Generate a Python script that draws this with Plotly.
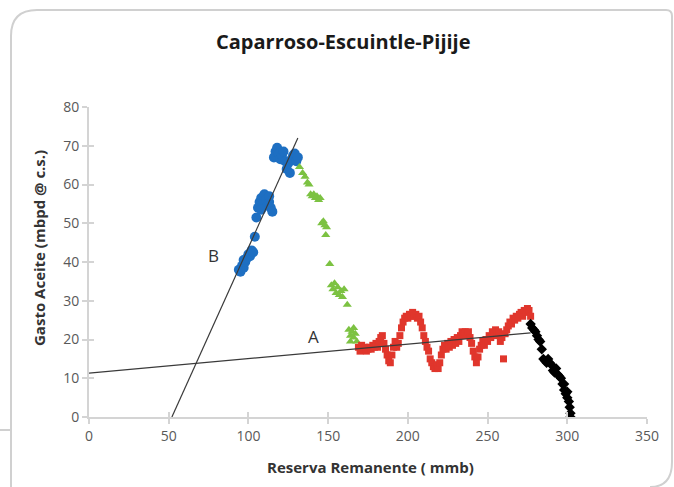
import plotly.graph_objects as go

# --- data -----------------------------------------------------------------
# Trend B (early period, steep) : blue circles
blue_x = [94, 95, 96, 97, 98, 99, 100, 101, 102, 103, 97,
          104, 105,
          106, 107, 108, 109, 110, 111, 112, 113, 114, 115, 108, 113,
          116, 117, 118, 119, 120, 121, 122, 123, 124, 125, 126, 127, 128, 129, 130, 131]
blue_y = [38, 37.5, 39, 38.5, 40, 41, 42, 41.5, 43, 42.5, 40.5,
          46.5, 51.5,
          54, 55.5, 56.5, 55, 57.5, 56, 54.5, 55.5, 54, 53, 53.5, 57,
          67, 68.5, 69.5, 68, 66.5, 67.5, 68.5, 66, 64, 65.5, 63, 66.5, 67.5, 68, 66, 67]

# Decline after the peak : green triangles
green_x = [132, 134, 135.5, 137, 138, 139, 140, 141, 142, 143, 144, 145,
           146, 147, 148, 148.5, 149, 151,
           152, 153, 154, 155, 156, 157, 158, 159, 160, 162,
           163, 164, 165, 166, 167, 168, 164, 166]
green_y = [64.5, 63, 62, 60.5, 60, 57.5, 57, 57.5, 56.5, 57, 56, 56.5,
           50, 50.5, 49.5, 47, 49, 39.5,
           34, 33, 34.5, 32, 33.5, 31.5, 32.5, 31, 33, 29,
           22.5, 21, 22, 20.5, 21.5, 19.5, 19.5, 23]

# Trend A (plateau) : red squares
red_x = list(range(169, 278))
red_y = [18, 17, 18.5, 17.5, 18, 17, 17.5, 18, 17.5, 18.5, 18, 19, 18, 19.5, 20.5, 21,
         19, 17.5, 16, 14.5, 14, 16, 18, 19.5, 18, 19, 21, 23, 24.5, 25.5, 26, 25.5,
         26.5, 26, 27, 26, 26.5, 25.5, 26, 24.5, 23, 21, 19.5, 18, 17, 15, 14, 13,
         12.5, 13.5, 12.5, 14, 16, 17.5, 18.5, 17.5, 19, 18, 19.5, 18.5, 20, 19, 20.5,
         19.5, 21, 22, 21.5, 22, 21, 22, 20.5, 19, 17, 15.5, 14, 15.5, 17.5, 18.5,
         19.5, 18.5, 20, 19.5, 21, 20.5, 22, 21.5, 22.5, 21, 22, 19.5, 20.5, 15,
         21.5, 22.5, 23.5, 24.5, 24, 25.5, 25, 26, 25.5, 26.5, 27, 26, 27.5, 27, 28,
         27.5, 26]

# Final decline : black diamonds
black_x = [277, 278, 279, 280, 281, 282, 283, 284, 285, 286, 287, 288, 289, 290,
           291, 292, 293, 294, 295, 296, 297, 298, 299, 300, 301, 301.5, 302, 302,
           298, 300]
black_y = [24, 23, 22.5, 22, 21, 20, 19.5, 17.5, 15, 14.5, 14, 15, 14, 13.5,
           12, 11.5, 12.5, 11, 10.5, 10, 8.5, 7, 6, 5, 4, 2.5, 1, 0,
           8.5, 6.5]

# Trend lines
line_a_x = [0, 277]
line_a_y = [11.3, 21.7]
line_b_x = [52, 131]
line_b_y = [0, 72]

x_ticks = [0, 50, 100, 150, 200, 250, 300, 350]
y_ticks = [0, 10, 20, 30, 40, 50, 60, 70, 80]

TITLE = "Caparroso-Escuintle-Pijije"
X_TITLE = "Reserva Remanente ( mmb)"
Y_TITLE = "Gasto Aceite (mbpd @ c.s.)"

# --- layout geometry (pixels) --------------------------------------------
W, H = 674, 487
L, R, T, B = 89, 27, 107, 70
PW, PH = W - L - R, H - T - B


def px(x):
    return (x - L) / PW


def py(y):
    return (H - B - y) / PH


FONT = "Open Sans"
AXIS_GREY = "#d4d4d4"
TEXT_GREY = "#595959"

fig = go.Figure()

fig.add_trace(go.Scatter(x=blue_x, y=blue_y, mode="markers",
                         marker=dict(symbol="circle", size=10, color="#1e6fc2")))
fig.add_trace(go.Scatter(x=green_x, y=green_y, mode="markers",
                         marker=dict(symbol="triangle-up", size=8, color="#7cc242")))
fig.add_trace(go.Scatter(x=red_x, y=red_y, mode="markers",
                         marker=dict(symbol="square", size=7, color="#e0362c")))
fig.add_trace(go.Scatter(x=black_x, y=black_y, mode="markers",
                         marker=dict(symbol="diamond", size=8, color="#000000")))
fig.add_trace(go.Scatter(x=line_a_x, y=line_a_y, mode="lines",
                         line=dict(color="#3a3a3a", width=1.2)))
fig.add_trace(go.Scatter(x=line_b_x, y=line_b_y, mode="lines",
                         line=dict(color="#3a3a3a", width=1.2)))

# mirror axes carrying the inner half of the crossing tick marks
fig.add_trace(go.Scatter(x=[None], y=[None], xaxis="x2", yaxis="y2",
                         showlegend=False, hoverinfo="skip"))

axis_common = dict(showgrid=False, zeroline=False, showline=True,
                   linecolor=AXIS_GREY, linewidth=2, tickcolor=AXIS_GREY,
                   tickwidth=1.5, ticklen=5)
tick_font = dict(family=FONT, size=14, color=TEXT_GREY)
centered = dict(xanchor="center", yanchor="middle", showarrow=False)

fig.update_layout(
    width=W, height=H,
    margin=dict(l=L, r=R, t=T, b=B),
    paper_bgcolor="white", plot_bgcolor="white",
    showlegend=False,
    xaxis=dict(range=[0, 350], tickvals=x_ticks, ticks="outside",
               tickfont=tick_font, **axis_common),
    yaxis=dict(range=[0, 80], tickvals=y_ticks, ticks="outside",
               tickfont=tick_font, **axis_common),
    xaxis2=dict(range=[0, 350], tickvals=x_ticks, ticks="inside", overlaying="x",
                showticklabels=False, **axis_common),
    yaxis2=dict(range=[0, 80], tickvals=y_ticks, ticks="inside", overlaying="y",
                showticklabels=False, **axis_common),
    annotations=[
        dict(text="<b>%s</b>" % TITLE, xref="paper", yref="paper",
             x=px(343), y=py(42), **centered,
             font=dict(family=FONT, size=20, color="#1a1a1a")),
        dict(text="<b>%s</b>" % X_TITLE, xref="paper", yref="paper",
             x=px(370), y=py(467), **centered,
             font=dict(family=FONT, size=15, color="#333333")),
        dict(text="<b>%s</b>" % Y_TITLE, xref="paper", yref="paper",
             x=px(39), y=py(248), textangle=-90, **centered,
             font=dict(family=FONT, size=15, color="#333333")),
        dict(text="B", x=77.8, y=41.8, xref="x", yref="y", **centered,
             font=dict(family=FONT, size=17, color="#333333")),
        dict(text="A", x=140.5, y=20.8, xref="x", yref="y", **centered,
             font=dict(family=FONT, size=17, color="#333333")),
    ],
)

# rounded frame around the chart
frame = (f"M {px(11)},{py(487)} L {px(11)},{py(36)} "
         f"Q {px(11)},{py(10)} {px(37)},{py(10)} "
         f"L {px(666)},{py(10)} Q {px(672)},{py(10)} {px(672)},{py(16)} "
         f"L {px(672)},{py(462)} Q {px(672)},{py(487)} {px(650)},{py(487)}")
fig.add_shape(type="path", path=frame, xref="paper", yref="paper",
              line=dict(color="#d0d0d0", width=2))
fig.add_shape(type="line", xref="paper", yref="paper",
              x0=px(0), y0=py(430), x1=px(11), y1=py(430),
              line=dict(color="#d0d0d0", width=2))

fig.write_html("out.html")
